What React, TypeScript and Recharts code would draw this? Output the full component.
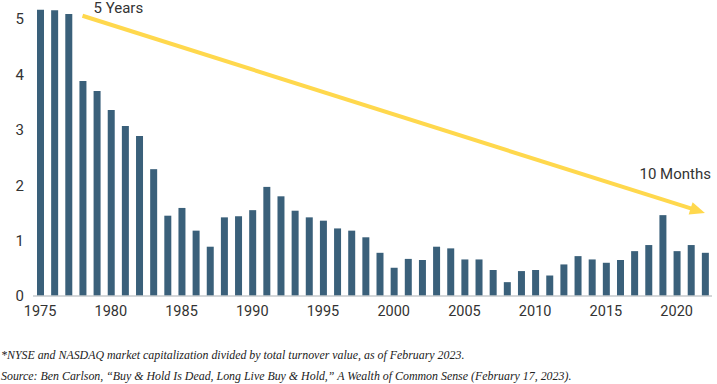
import React from 'react';
import { BarChart, Bar, XAxis, YAxis, ReferenceLine } from 'recharts';

const years = [
  '1975', '1976', '1977', '1978', '1979', '1980', '1981', '1982', '1983', '1984',
  '1985', '1986', '1987', '1988', '1989', '1990', '1991', '1992', '1993', '1994',
  '1995', '1996', '1997', '1998', '1999', '2000', '2001', '2002', '2003', '2004',
  '2005', '2006', '2007', '2008', '2009', '2010', '2011', '2012', '2013', '2014',
  '2015', '2016', '2017', '2018', '2019', '2020', '2021', '2022'
];

// average holding period (years)
const holding = [
  5.17, 5.16, 5.09, 3.88, 3.70, 3.36, 3.07, 2.89, 2.29, 1.45,
  1.59, 1.18, 0.89, 1.42, 1.44, 1.55, 1.97, 1.80, 1.54, 1.42,
  1.36, 1.22, 1.18, 1.06, 0.78, 0.51, 0.67, 0.65, 0.89, 0.86,
  0.66, 0.66, 0.47, 0.25, 0.45, 0.47, 0.37, 0.57, 0.72, 0.66,
  0.60, 0.65, 0.81, 0.92, 1.46, 0.81, 0.92, 0.78
];

const yTicks = [0, 1, 2, 3, 4, 5];

const arrowFrom = { year: '1978', value: 5.06, label: '5 Years' };
const arrowTo = { year: '2022', value: 1.5, label: '10 Months' };

const notes = [
  '*NYSE and NASDAQ market capitalization divided by total turnover value, as of February 2023.',
  'Source: Ben Carlson, \u201cBuy & Hold Is Dead, Long Live Buy & Hold,\u201d A Wealth of Common Sense (February 17, 2023).'
];

const data = years.map((year, i) => ({ year, value: holding[i] }));

const BAR = '#3a607a';
const YELLOW = '#ffd84d';
const FONT = 'Roboto, "Noto Sans", sans-serif';

const Arrow = (props: any) => {
  const { x1, y1, x2, y2 } = props;
  if ([x1, y1, x2, y2].some((v) => typeof v !== 'number' || isNaN(v))) return null;
  const dx = x2 - x1;
  const dy = y2 - y1;
  const len = Math.sqrt(dx * dx + dy * dy);
  const ux = dx / len;
  const uy = dy / len;
  const head = 15;
  const half = 6.5;
  const bx = x2 - ux * head;
  const by = y2 - uy * head;
  const pts = `${x2},${y2} ${bx - uy * half},${by + ux * half} ${bx + uy * half},${by - ux * half}`;
  return (
    <g>
      <line x1={x1} y1={y1} x2={bx + ux * 1} y2={by + uy * 1} stroke={YELLOW} strokeWidth={4} />
      <polygon points={pts} fill={YELLOW} />
      <text x={x1 + 11} y={y1 - 3} fontFamily={FONT} fontSize={15} fill="#333">
        {arrowFrom.label}
      </text>
      <text x={x2 + 6} y={y2 - 34} textAnchor="end" fontFamily={FONT} fontSize={15} fill="#333">
        {arrowTo.label}
      </text>
    </g>
  );
};

export default function App() {
  return (
    <div style={{ position: 'absolute', left: 0, top: 0, width: 717, height: 384, background: '#fff' }}>
      <BarChart
        width={717}
        height={326}
        data={data}
        margin={{ top: 8, right: 5, bottom: 0, left: 0 }}
        barCategoryGap={0}
      >
        <XAxis
          dataKey="year"
          interval={4}
          tickLine={false}
          axisLine={{ stroke: '#c6cacd', strokeWidth: 1.5 }}
          tick={{ fontSize: 14.5, fill: '#333', fontFamily: FONT }}
          tickMargin={4}
          height={30}
        />
        <YAxis
          domain={[0, 5.2]}
          ticks={yTicks}
          width={33}
          axisLine={false}
          tickLine={false}
          tickSize={0}
          tickMargin={9}
          tick={{ fontSize: 15, fill: '#333', fontFamily: FONT }}
        />
        <Bar dataKey="value" fill={BAR} barSize={7} isAnimationActive={false} />
        <ReferenceLine
          segment={[
            { x: arrowFrom.year, y: arrowFrom.value },
            { x: arrowTo.year, y: arrowTo.value }
          ]}
          shape={Arrow}
          ifOverflow="visible"
        />
      </BarChart>
      <div
        style={{
          position: 'absolute',
          left: 1,
          top: 345,
          fontFamily: '"Liberation Serif", serif',
          fontStyle: 'italic',
          fontSize: 11.9,
          lineHeight: '21px',
          color: '#222',
          whiteSpace: 'nowrap'
        }}
      >
        {notes.map((n) => (
          <div key={n}>{n}</div>
        ))}
      </div>
    </div>
  );
}
